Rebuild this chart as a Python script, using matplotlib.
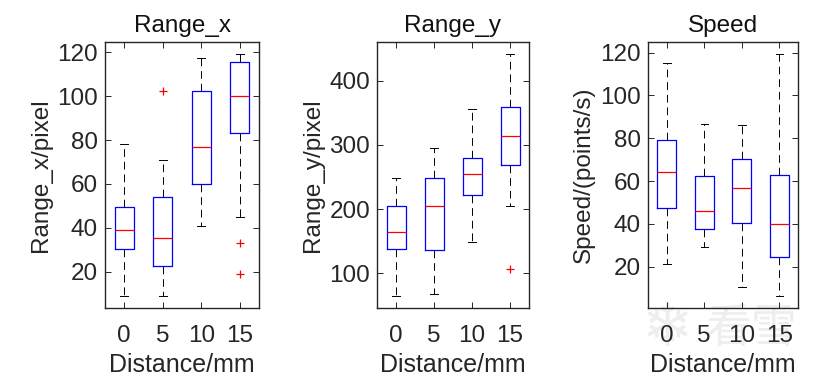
"""Box plots of range and speed against distance."""

import matplotlib
matplotlib.use('Agg')
import matplotlib.pyplot as plt

plt.rcParams['font.family'] = ['Liberation Sans', 'DejaVu Sans']

distances = ['0', '5', '10', '15']

# box statistics: low whisker, q1, median, q3, high whisker
range_x_stats = [
    (9, 30.2, 39, 49.5, 78),
    (9, 22.6, 35.2, 53.9, 71),
    (41, 59.8, 77, 102.2, 117.3),
    (45, 83.2, 100, 115.4, 119.4),
]
range_x_fliers = [[], [102.2], [], [32.9, 18.9]]

range_y_stats = [
    (65, 138, 164, 204, 248),
    (68, 136, 205, 248, 295),
    (149, 221.5, 254, 280, 356),
    (205, 269, 313, 359.5, 442),
]
range_y_fliers = [[], [], [], [106]]

speed_stats = [
    (21.4, 47.3, 64.4, 79, 115.2),
    (29.3, 37.4, 46.2, 62.4, 86.5),
    (10.3, 40.2, 57, 70.5, 86),
    (6.4, 24.7, 40, 62.7, 119.5),
]
speed_fliers = [[], [], [], []]

panels = [
    ('Range_x', 'Range_x/pixel', range_x_stats, range_x_fliers, (3.5, 124.7), [20, 40, 60, 80, 100, 120]),
    ('Range_y', 'Range_y/pixel', range_y_stats, range_y_fliers, (46, 460), [100, 200, 300, 400]),
    ('Speed', 'Speed/(points/s)', speed_stats, speed_fliers, (0.7, 125), [20, 40, 60, 80, 100, 120]),
]

# axes rectangles in pixels (left, top, width, height)
W, H = 818, 383
rects = [(105, 42, 154, 266), (377, 42, 152, 266), (648, 42, 150, 266)]

fig = plt.figure(figsize=(W / 100, H / 100), dpi=100)

# faint watermark under the third panel
fig.text(667 / W, 1 - 329 / H, '❄', fontsize=44, color='#eeeeee', ha='center', va='center',
         family=['DejaVu Sans'], zorder=-1)
fig.text(751 / W, 1 - 329 / H, '看雪', fontsize=33, color='#eeeeee', ha='center', va='center',
         family=['Noto Sans CJK SC'], zorder=-1)

for (title, ylabel, stats, fliers, ylim, yticks), (l, t, w, h) in zip(panels, rects):
    ax = fig.add_axes([l / W, 1 - (t + h) / H, w / W, h / H])
    ax.patch.set_alpha(0)
    bxp_stats = []
    for lab, s, f in zip(distances, stats, fliers):
        bxp_stats.append({'label': lab, 'whislo': s[0], 'q1': s[1], 'med': s[2],
                          'q3': s[3], 'whishi': s[4], 'fliers': f})
    ax.bxp(bxp_stats, positions=[1, 2, 3, 4], widths=0.5, showfliers=True,
           boxprops=dict(color='#0000ff', linewidth=0.9),
           medianprops=dict(color='#ff0000', linewidth=0.9),
           whiskerprops=dict(color='black', linestyle=(0, (8, 5)), linewidth=0.7),
           capprops=dict(color='black', linewidth=0.7),
           capwidths=0.2,
           flierprops=dict(marker='+', markeredgecolor='#ff0000', markersize=6, markeredgewidth=0.9))
    ax.set_xlim(0.5, 4.5)
    ax.set_ylim(*ylim)
    ax.set_yticks(yticks)
    ax.set_title(title, fontsize=17.5, pad=7, color='#111111')
    ax.set_ylabel(ylabel, fontsize=17.5, color='#262626', labelpad=4)
    ax.set_xlabel('Distance/mm', fontsize=18, color='#262626', labelpad=4.5)
    ax.tick_params(direction='in', top=True, right=True, labelsize=17.5, length=4,
                   width=0.7, color='#262626', labelcolor='#262626')
    ax.tick_params(axis='x', pad=12)
    ax.tick_params(axis='y', pad=5)
    for sp in ax.spines.values():
        sp.set_color('#262626')
        sp.set_linewidth(1.0)

fig.savefig('out.png', dpi=100)
